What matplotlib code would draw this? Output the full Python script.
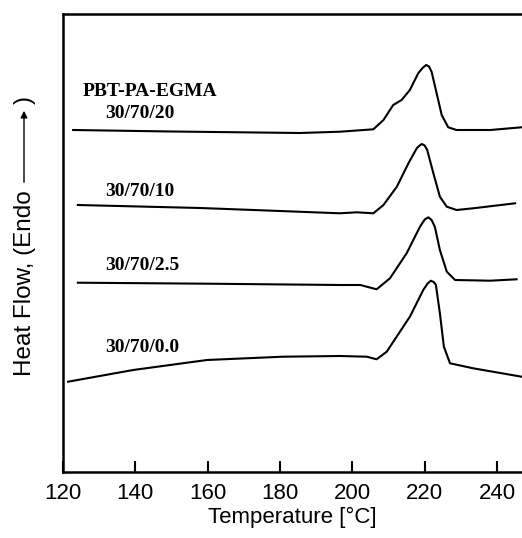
import matplotlib.pyplot as plt
from matplotlib.patches import FancyArrowPatch

# DSC heating curves, PBT-PA-EGMA blends (y in arbitrary units, curves shifted)
t_20 = [122.8, 150.0, 185.5, 196.6, 205.8, 208.6, 211.3, 213.6, 215.9, 218.2,
        219.4, 220.4, 221.2, 221.9, 223.3, 224.7, 226.5, 228.8, 238.1, 246.8]
hf_20 = [342, 340.5, 339, 340.3, 342.7, 352, 367, 372, 382, 398.7,
         404, 407, 405.5, 400.3, 378.7, 357, 344.7, 342, 342, 344.7]

t_10 = [124.1, 157.9, 180.0, 196.6, 201.2, 205.8, 208.6, 212.3, 215.5, 217.8,
        218.6, 219.2, 220.0, 220.7, 222.4, 224.2, 226.1, 228.8, 233.4, 245.0]
hf_10 = [267, 264, 261, 258.7, 259.7, 258.7, 267, 285.3, 308.7, 323.7,
         326.5, 328, 326.5, 322, 298.7, 275.3, 265.3, 262, 263.7, 268.7]

t_25 = [124.1, 160.0, 196.6, 202.2, 206.7, 210.4, 215.0, 218.7, 220.0, 221.0,
        221.9, 222.8, 224.2, 226.1, 228.4, 238.1, 245.4]
hf_25 = [189.3, 188.3, 187, 187, 182.7, 193.7, 218.7, 245.3, 252.5, 254.7,
         252, 245.3, 222, 200.3, 192, 191.3, 192.7]

t_00 = [121.4, 139.4, 159.8, 180.8, 196.6, 204.0, 206.7, 209.5, 215.9, 219.6,
        220.8, 221.7, 222.5, 223.1, 224.2, 225.3, 227.0, 233.4, 246.8]
hf_00 = [90.3, 102, 112, 115.3, 116, 115.3, 112.7, 120.3, 155.3, 182,
         188.5, 191.3, 190, 187, 158.7, 125.3, 108.7, 103.7, 95.3]

labels = ['30/70/20', '30/70/10', '30/70/2.5', '30/70/0.0']
xticks = [120, 140, 160, 180, 200, 220, 240]

fig = plt.figure(figsize=(5.22, 5.38), dpi=100)
ax = fig.add_axes([63/522, 1 - 472/538, 1 - 63/522, 458/538])

for t, hf in [(t_20, hf_20), (t_10, hf_10), (t_25, hf_25), (t_00, hf_00)]:
    ax.plot(t, hf, color='black', lw=1.5, solid_joinstyle='round')

ax.set_xlim(120, 120 + (522 - 63) / 3.617)
ax.set_ylim(0, 458)
ax.set_yticks([])
ax.set_xticks(xticks)
ax.tick_params(axis='x', direction='in', length=8, width=1.5, labelsize=16, pad=8)
for lab in ax.get_xticklabels():
    lab.set_family(['Liberation Sans', 'DejaVu Sans'])
ax.spines['right'].set_visible(False)
for s in ['left', 'bottom', 'top']:
    ax.spines[s].set_linewidth(1.8)

ax.set_xlabel('Temperature [°C]', fontsize=16, family=['Liberation Sans', 'DejaVu Sans'],
              labelpad=2)

serif = dict(family=['Liberation Serif', 'DejaVu Serif'], fontweight='bold', fontsize=14)
ax.text(125.3, 381, 'PBT-PA-EGMA', va='center', **serif)
label_y = [358, 280, 206, 125]
for lab, y in zip(labels, label_y):
    ax.text(131.8, y, lab, va='center', **serif)

# y label with the Endo arrow
sans = dict(family=['Liberation Sans', 'DejaVu Sans'], fontsize=17.5, rotation=90)
fig.text(25/522, 1 - 376/538, 'Heat Flow, (Endo', ha='center', va='bottom', **sans)
fig.text(25/522, 1 - 104/538, ')', ha='center', va='bottom', **sans)
fig.add_artist(FancyArrowPatch(
    (24/522, 1 - 185/538), (24/522, 1 - 108/538), transform=fig.transFigure,
    arrowstyle='-|>', mutation_scale=10, color='black', lw=1.0))

fig.savefig('out.png', dpi=100)
